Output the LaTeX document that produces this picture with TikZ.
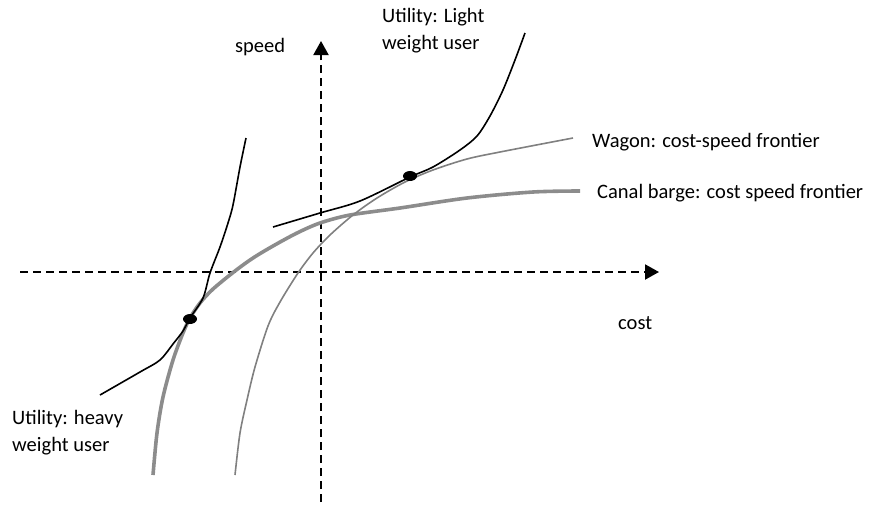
\documentclass[tikz,border=0pt]{standalone}
\usepackage{fontspec}
\setmainfont{Carlito}
\usetikzlibrary{arrows.meta,shapes.geometric}
\begin{document}
\begin{tikzpicture}[x=1pt,y=-1pt,
  lbl/.style={font=\fontsize{20.5}{27}\selectfont, inner sep=0pt, anchor=west, align=left},
  axis/.style={line width=2pt, dash pattern=on 8pt off 5pt, -{Triangle[length=14pt,width=15pt]}},
  utility/.style={line width=1.6pt, black},
  wagon/.style={line width=1.6pt, color=black!50},
  barge/.style={line width=3.6pt, color=black!45},
  spot/.style={fill=black, ellipse, minimum width=14pt, minimum height=10pt, inner sep=0pt}]
\useasboundingbox (0,0) rectangle (869,504);
% axes
\coordinate (xs) at (20,272);
\coordinate (xe) at (659,272);
\coordinate (ys) at (321,502);
\coordinate (ye) at (321,41);
\draw[axis] (xs) -- (xe);
\draw[axis] (ys) -- (ye);
% canal barge frontier
\draw[barge] plot[smooth, tension=0.5] coordinates {(153,475) (157,433) (163,397) (173,360) (183,333) (190,318) (200,303) (213,289) (235,271) (253,258) (273,246) (297,233) (320,223) (350,215) (400,208) (467,198) (533,192) (580,191)};
% wagon frontier
\draw[wagon] plot[smooth, tension=0.5] coordinates {(235,475) (240,433) (247,400) (255,367) (268,326) (280,302) (298,273) (313,253) (330,235) (353,215) (377,198) (405,182) (433,170) (467,159) (500,152) (573,138)};
% heavy-weight utility
\draw[utility] plot[smooth, tension=0.5] coordinates {(100,395) (140,372) (160,360) (173,344) (183,331) (190,318) (203,298) (210,273) (220,247) (228,223) (233,205) (240,167) (246,138)};
% light-weight utility
\draw[utility] plot[smooth, tension=0.5] coordinates {(273,227) (320,213) (360,201) (410,177) (433,167) (460,150) (477,136) (490,116) (503,90) (515,60) (525,33)};
% tangency points
\node[spot] (dh) at (190,319) {};
\node[spot] (dl) at (410,176) {};
% labels
\node[lbl] (speed) at (235,47) {speed};
\node[lbl] (cost) at (618,323) {cost};
\node[lbl, anchor=north west] (ul) at (382,8) {Utility: Light\\weight user};
\node[lbl, anchor=north west] (uh) at (12,410) {Utility: heavy\\weight user};
\node[lbl] (wl) at (592,142) {Wagon: cost-speed frontier};
\node[lbl] (cl) at (597,193) {Canal barge: cost speed frontier};
\end{tikzpicture}
\end{document}
